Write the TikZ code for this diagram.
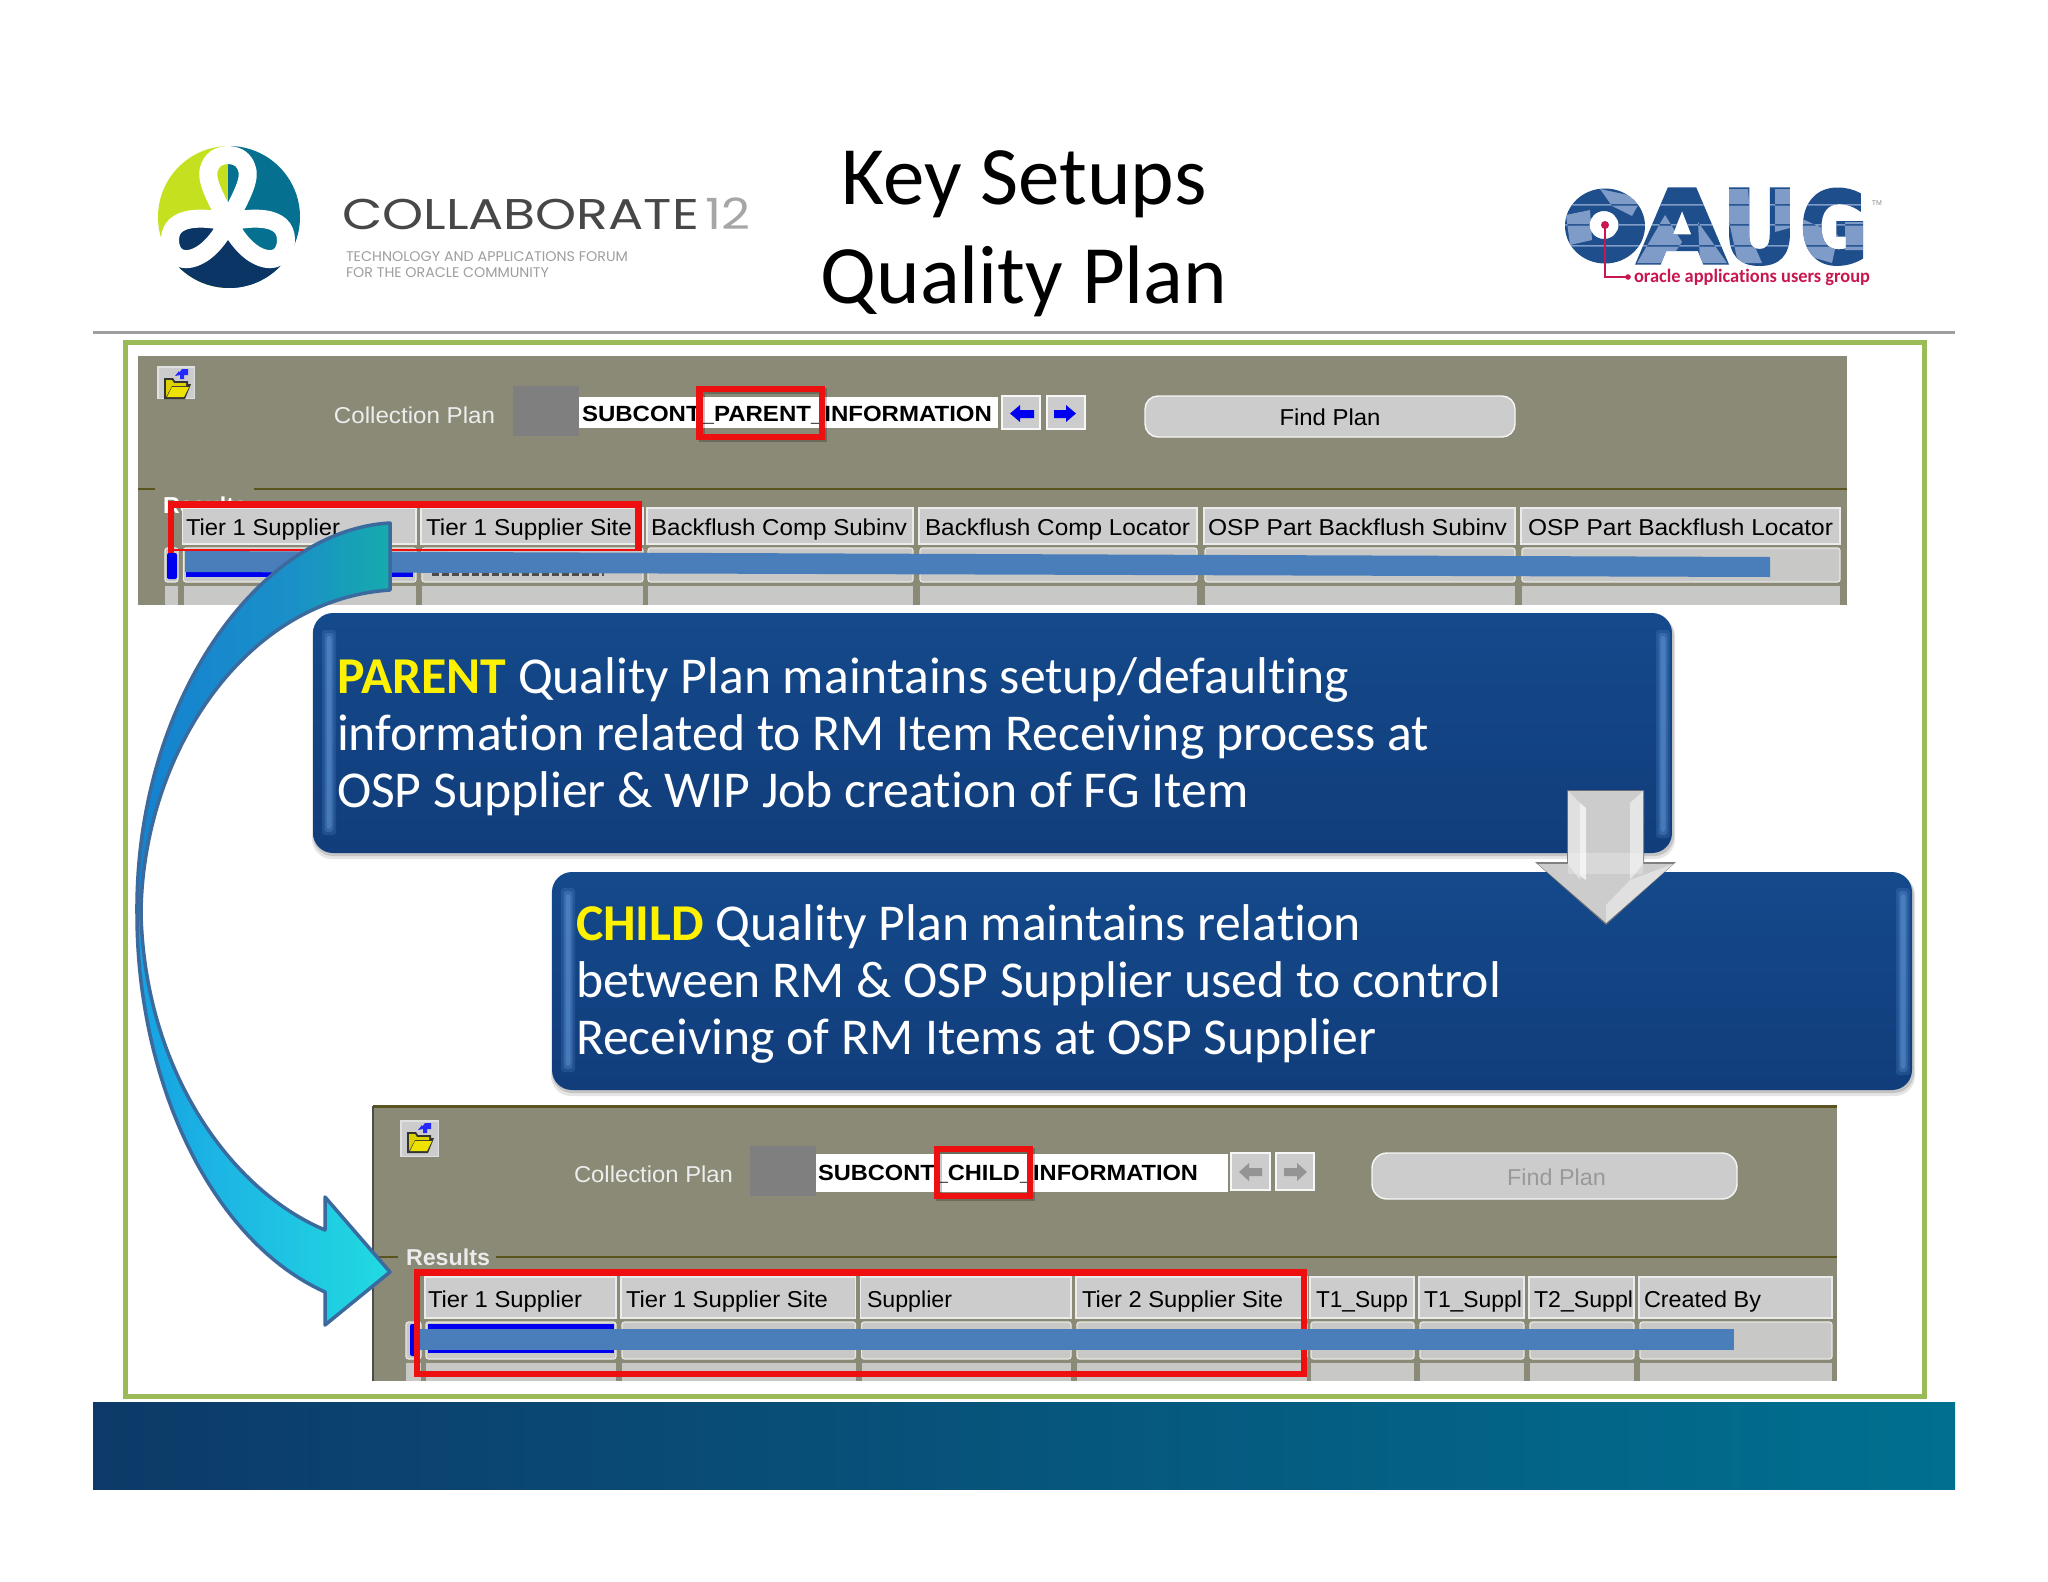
\documentclass[tikz,border=0pt]{standalone}
\usepackage{graphicx}
\usepackage{fontspec}
\setmainfont{Carlito}[Ligatures=NoCommon]
\newfontfamily\uifont{Liberation Sans}
\newfontfamily\logofont{Poppins}
\newfontfamily\oaugfont{DejaVu Sans Bold}[FakeBold=3]
\usetikzlibrary{calc,fadings}
\definecolor{panelbg}{HTML}{8A8A76}
\definecolor{panelline}{HTML}{5A5420}
\definecolor{grayslot}{HTML}{807F80}
\definecolor{cellface}{HTML}{CCCCCC}
\definecolor{cellrow}{HTML}{C8C8C6}
\definecolor{bandblue}{HTML}{4A7EBB}
\definecolor{redbox}{HTML}{EE0F10}
\definecolor{framegreen}{HTML}{9BBB59}
\definecolor{selblue}{HTML}{0000F0}
\definecolor{boxtop}{HTML}{144A8C}
\definecolor{boxmid}{HTML}{113C7A}
\definecolor{boxbot}{HTML}{0B305F}
\definecolor{boxhi}{HTML}{6DA3E4}
\definecolor{lime}{HTML}{C5E01F}
\definecolor{tealc}{HTML}{05708F}
\definecolor{navyc}{HTML}{0B3565}
\definecolor{oaugdark}{HTML}{1F4E8C}
\definecolor{oauglight}{HTML}{7F9CC8}
\definecolor{oaugred}{HTML}{C8174F}
\definecolor{footl}{HTML}{0D3A68}
\definecolor{footr}{HTML}{007090}
\definecolor{tailA}{HTML}{0F78D8}
\definecolor{tailB}{HTML}{1A8FC8}
\definecolor{tailC}{HTML}{14B8A0}
\definecolor{headA}{HTML}{0A80E0}
\definecolor{headB}{HTML}{1CB4E4}
\definecolor{headC}{HTML}{22E0E0}
\definecolor{headD}{HTML}{10E0B0}
\definecolor{arrowedge}{HTML}{3A6A9E}
\pgfdeclareverticalshading{calloutshade}{100bp}{color(0bp)=(boxbot); color(7bp)=(boxbot); color(22bp)=(boxmid); color(78bp)=(boxtop); color(95bp)=(boxtop); color(100bp)=(boxmid)}
\pgfdeclarehorizontalshading{tailshade}{100bp}{color(0bp)=(tailA); color(55bp)=(tailB); color(85bp)=(tailC); color(100bp)=(tailC)}
\pgfdeclarehorizontalshading{headshade}{100bp}{color(0bp)=(headA); color(40bp)=(headB); color(80bp)=(headC); color(100bp)=(headD)}
\newcommand\fitw[2]{\resizebox{#1pt}{\height}{#2}}
\newcommand\fitwh[3]{\resizebox{#1pt}{#2pt}{#3}}
\newcommand\glowstrip[4]{% x1, x2, y1, y2
  \fill[boxhi,opacity=.18,rounded corners=3] (#1,#3) rectangle (#2,#4);
  \fill[boxhi,opacity=.25,rounded corners=3] (#1+2.5,#3+3) rectangle (#2-2.5,#4-3);
  \fill[boxhi,opacity=.35,rounded corners=3] (#1+4.5,#3+6) rectangle (#2-4.5,#4-6);
}
\tikzset{
  uitext/.style={inner sep=0,outer sep=0,font=\uifont\fontsize{23}{23}\selectfont,text=black},
  hdrcell/.style={fill=cellface,draw=white!92!black,line width=1.6},
  rowcell/.style={fill=cellrow,draw=white!80!panelbg,line width=1.2,rounded corners=2.5},
  redframe/.style={draw=redbox,line width=6.2},
  redshadow/.style={draw=black,opacity=.22,line width=6},
  panelrule/.style={draw=panelline,line width=2.2},
  btnface/.style={fill=cellface,draw=white!85!cellface,line width=1.4},
  calloutbody/.style={rounded corners=20,shading=calloutshade},
  callouttext/.style={inner sep=0,outer sep=0,text=white,align=left,font=\fontsize{51.7}{57}\selectfont},
  titletext/.style={inner sep=0,outer sep=0,font=\fontsize{83}{83}\selectfont,text=black},
  lobewhite/.style={white,line width=18,line join=round},
}
\newcommand\foldericon[4]{%
  \begin{scope}[shift={(#1,#2)}]
    \fill[white!88!black] (0,0) rectangle (#3,#4);
    \fill[cellface] (1.5,1.5) rectangle (#3-1.5,#4-1.5);
    \fill[black!80] (7,12) -- (16,12) -- (18,15) -- (31,15) -- (31,18) -- (34,18) -- (28,33) -- (7,33) -- cycle;
    \fill[yellow!70!olive] (9,14) -- (15,14) -- (17,17) -- (29,17) -- (29,20) -- (15,20) -- (9,31) -- cycle;
    \fill[yellow!85!olive] (15,21) -- (32,21) -- (27,31) -- (10,31) -- cycle;
    \fill[blue!85!white] (18,10) -- (22,5) -- (22,7) -- (25,3) -- (31,3) -- (31,9) -- (27,9) -- (27,13) -- (23,13) -- (23,9) -- cycle;
  \end{scope}}
\begin{document}
\begin{tikzpicture}[x=1pt,y=-1pt]
\useasboundingbox (0,0) rectangle (2048,1582);
\fill[white] (0,0) rectangle (2048,1582);

% ---------- COLLABORATE logo
\begin{scope}
  \clip (229,217) circle[x radius=71,y radius=71];
  \fill[lime] (150,140) rectangle (228,300);
  \fill[tealc] (228,140) rectangle (310,300);
  \fill[navyc] (150,250) rectangle (310,300);
  \fill[navyc] (228,228) -- (195,265) -- (261,265) -- cycle;
\end{scope}
\fill[navyc] (228,222) .. controls (205,217) and (170,214) .. (170,240) .. controls (170,268) and (205,268) .. (228,222) -- cycle;
\fill[tealc] (228,222) .. controls (251,217) and (286,214) .. (286,240) .. controls (286,268) and (251,268) .. (228,222) -- cycle;
\draw[lobewhite] (228,222) .. controls (214,195) and (204,178) .. (210,166) .. controls (214,157) and (222,155) .. (228,155) .. controls (234,155) and (242,157) .. (246,166) .. controls (252,178) and (242,195) .. (228,222);
\draw[lobewhite] (228,222) .. controls (205,217) and (170,214) .. (170,240) .. controls (170,268) and (205,268) .. (228,222);
\draw[lobewhite] (228,222) .. controls (251,217) and (286,214) .. (286,240) .. controls (286,268) and (251,268) .. (228,222);
\node[inner sep=0,outer sep=0,anchor=base west,text=black!72] (collab) at (342,229) {\logofont\fontsize{43}{43}\selectfont\fitw{357}{COLLABORATE}};
\node[inner sep=0,outer sep=0,anchor=base west,text=black!35] (collabyear) at (705,229) {\logofont\fontsize{43}{43}\selectfont\fitw{45}{12}};
\node[inner sep=0,outer sep=0,anchor=base west,text=black!38] (collabsub1) at (346,261) {\logofont\fontsize{14}{14}\selectfont\fitw{282}{TECHNOLOGY AND APPLICATIONS FORUM}};
\node[inner sep=0,outer sep=0,anchor=base west,text=black!38] (collabsub2) at (346,277) {\logofont\fontsize{14}{14}\selectfont\fitw{203}{FOR THE ORACLE COMMUNITY}};

% ---------- title
\node[titletext,anchor=base] (title1) at (1024,204) {Key Setups};
\node[titletext,anchor=base] (title2) at (1024,303) {Quality Plan};

% ---------- OAUG logo
\fill[oaugdark,even odd rule] (1605,226) circle[x radius=40,y radius=37.5] (1604,225) circle[x radius=14.5,y radius=14];
\node[inner sep=0,outer sep=0,text=oaugdark,anchor=north west] (oaugA) at (1637,189) {\oaugfont\fitwh{90}{74}{A}};
\node[inner sep=0,outer sep=0,text=oaugdark,anchor=north west] (oaugU) at (1722,189) {\oaugfont\fitwh{75}{74}{U}};
\node[inner sep=0,outer sep=0,text=oaugdark,anchor=north west] (oaugG) at (1800,189) {\oaugfont\fitwh{68}{74}{G}};
\begin{scope}[blend mode=lighten]
  \fill[oauglight] (1600,189) -- (1642,198) -- (1632,216) -- (1612,206) -- cycle
        (1566,215) -- (1590,210) -- (1592,240) -- (1570,245) -- cycle
        (1637,263) -- (1665,215) -- (1682,242) -- (1668,263) -- cycle
        (1698,222) -- (1727,263) -- (1700,263) -- cycle
        (1722,189) -- (1748,189) -- (1752,240) -- (1762,263) -- (1738,263) -- cycle
        (1775,189) -- (1797,189) -- (1797,226) -- (1775,232) -- cycle
        (1800,218) -- (1838,235) -- (1832,263) -- (1805,255) -- cycle
        (1845,222) -- (1868,222) -- (1868,250) -- (1845,250) -- cycle
        (1560,204) rectangle (1880,205.5)
        (1560,224) rectangle (1880,225.5)
        (1560,245) rectangle (1880,246.5);
\end{scope}
\draw[oaugred,line width=2.2] (1605,225) -- (1605,277) -- (1628,277);
\fill[oaugred] (1605,225) circle[radius=4];
\fill[oaugred] (1628,277) circle[radius=2.8];
\node[inner sep=0,outer sep=0,anchor=base west,text=oaugred] (oaugtag) at (1634,282) {\fontsize{19}{19}\selectfont\bfseries\fitw{236}{oracle applications users group}};
\node[inner sep=0,outer sep=0,text=black!45] (oaugtm) at (1877,203) {\uifont\fontsize{7}{7}\selectfont TM};

% ---------- header rule, footer, frame
\draw[black!38,line width=3] (93,332) -- (1955,332);
\shade[left color=footl,right color=footr] (93,1402) rectangle (1955,1489);
\draw[framegreen,line width=5] (125,342) rectangle (1924,1396);

% ---------- panel 1
\fill[panelbg] (138,356) rectangle (1847,605);
\draw[panelrule] (138,489) -- (155,489);
\draw[panelrule] (254,489) -- (1847,489);
\foldericon{157}{366}{38}{33}
\node[uitext,text=white!93!black,anchor=center] (cp1) at (414.5,415) {\fitw{161}{Collection Plan}};
\fill[grayslot] (513,386) rectangle (579,436);
\fill[white] (579,397) rectangle (998,428);
\node[uitext,anchor=base west] (field1) at (582,421) {\bfseries\fontsize{22}{22}\selectfont\fitw{410}{SUBCONT\_PARENT\_INFORMATION}};
\draw[btnface] (1002,396) rectangle (1040,429);
\draw[btnface] (1047,396) rectangle (1085,429);
\fill[selblue] (1010,413.5) -- (1020,405) -- (1020,410) -- (1034,410) -- (1034,418) -- (1020,418) -- (1020,422) -- cycle;
\fill[selblue] (1076,413.5) -- (1066,405) -- (1066,410) -- (1054,410) -- (1054,418) -- (1066,418) -- (1066,422) -- cycle;
\draw[btnface,rounded corners=13] (1145,396) rectangle (1515,437);
\node[uitext,anchor=center] (find1) at (1330,417) {\fitw{101}{Find Plan}};
\node[uitext,text=white,anchor=base west] (res1) at (163,513) {\bfseries\fitw{84}{Results}};
\draw[rowcell] (165,548) rectangle (178,582);
\fill[cellrow] (165,586) rectangle (178,605);
\foreach \a/\b in {182.5/416,421/643,647/913,919/1197,1204/1515,1521/1840}{
  \draw[hdrcell] (\a,508) rectangle (\b,544);
  \draw[rowcell] (\a+1,548) rectangle (\b,582);
  \fill[cellrow] (\a+1,586) rectangle (\b,605);
}
\fill[selblue,rounded corners=2] (167,553) rectangle (177,579);
\fill[selblue] (186,567) rectangle (413,577);
\draw[black!70,line width=3,dash pattern=on 7pt off 3pt] (432,574) -- (604,574);
\node[uitext,anchor=base west] (p1c1) at (186,535) {\fitw{154}{Tier 1 Supplier}};
\node[uitext,anchor=base west] (p1c2) at (426,535) {\fitw{206}{Tier 1 Supplier Site}};
\node[uitext,anchor=base west] (p1c3) at (651,535) {\fitw{256}{Backflush Comp Subinv}};
\node[uitext,anchor=base west] (p1c4) at (925,535) {\fitw{265}{Backflush Comp Locator}};
\node[uitext,anchor=base west] (p1c5) at (1208,535) {\fitw{299}{OSP Part Backflush Subinv}};
\node[uitext,anchor=base west] (p1c6) at (1528,535) {\fitw{305}{OSP Part Backflush Locator}};
% red frames panel 1
\draw[redshadow] (701.5,391) rectangle (824,439);
\draw[redframe] (699.5,389) rectangle (822,437);
\draw[redframe] (171,553) -- (171,504.5) -- (638.5,504.5) -- (638.5,551);
\draw[redframe,line width=2.5] (171,550) -- (638.5,550);
\fill[bandblue] (185,551) -- (1770,557) -- (1770,577) -- (185,572) -- cycle;

% ---------- panel 2
\fill[panelbg] (373,1106) rectangle (1837,1381);
\draw[panelline,line width=3] (373,1106) -- (1837,1106);
\draw[black!70,line width=1.5] (373,1106) -- (373,1381);
\draw[panelrule] (373,1257) -- (398,1257);
\draw[panelrule] (496,1257) -- (1837,1257);
\foldericon{400}{1120}{39}{37}
\node[uitext,text=white!93!black,anchor=center] (cp2) at (653.5,1174) {\fitw{159}{Collection Plan}};
\fill[grayslot] (750,1146) rectangle (816,1196);
\fill[white] (816,1154) rectangle (1228,1192);
\node[uitext,anchor=base west] (field2) at (818,1180) {\bfseries\fontsize{22}{22}\selectfont\fitw{380}{SUBCONT\_CHILD\_INFORMATION}};
\draw[btnface] (1231,1153) rectangle (1270,1190);
\draw[btnface] (1276,1153) rectangle (1314,1190);
\fill[black!42] (1239,1172) -- (1249,1163) -- (1249,1168) -- (1262,1168) -- (1262,1176) -- (1249,1176) -- (1249,1181) -- cycle;
\fill[black!42] (1307,1172) -- (1297,1163) -- (1297,1168) -- (1284,1168) -- (1284,1176) -- (1297,1176) -- (1297,1181) -- cycle;
\draw[btnface,rounded corners=15] (1372,1153) rectangle (1737,1199);
\node[uitext,text=black!40,anchor=center] (find2) at (1556.5,1177) {\fitw{99}{Find Plan}};
\node[uitext,text=white!92!black,anchor=center] (res2) at (448,1257) {\bfseries\fitw{84}{Results}};
\draw[rowcell] (406,1322) rectangle (421,1359);
\fill[cellrow] (406,1363) rectangle (421,1381);
\foreach \a/\b in {425/616,621/855.5,860.6/1071,1076/1307,1310/1414,1419/1524,1529/1634,1639/1832}{
  \draw[hdrcell] (\a,1277) rectangle (\b,1318);
  \draw[rowcell] (\a+1,1322) rectangle (\b,1359);
  \fill[cellrow] (\a+1,1363) rectangle (\b,1381);
}
\fill[selblue,rounded corners=2] (410,1324) rectangle (419,1356);
\fill[selblue] (428,1324) rectangle (614,1353);
\node[uitext,anchor=base west] (p2c1) at (428,1307) {\fitw{154}{Tier 1 Supplier}};
\node[uitext,anchor=base west] (p2c2) at (626,1307) {\fitw{202}{Tier 1 Supplier Site}};
\node[uitext,anchor=base west] (p2c3) at (867,1307) {\fitw{85}{Supplier}};
\node[uitext,anchor=base west] (p2c4) at (1082,1307) {\fitw{201}{Tier 2 Supplier Site}};
\node[uitext,anchor=base west] (p2c5) at (1316,1307) {\fitw{92}{T1\_Supp}};
\node[uitext,anchor=base west] (p2c6) at (1424,1307) {\fitw{98}{T1\_Suppl}};
\node[uitext,anchor=base west] (p2c7) at (1534,1307) {\fitw{99}{T2\_Suppl}};
\node[uitext,anchor=base west] (p2c8) at (1644,1307) {\fitw{117}{Created By}};
\draw[redshadow] (939,1151) rectangle (1032,1198);
\draw[redframe] (937,1149) rectangle (1030,1196);
\draw[redframe] (417,1272.5) rectangle (1304,1374);
\fill[bandblue] (420,1329) rectangle (1734,1350);

% ---------- curved arrow
\begin{scope}
  \clip (390,523) .. controls (260,530) and (135,700) .. (137,914) -- (141,914) .. controls (142,760) and (240,600) .. (390,590) -- cycle;
  \shade[shading=tailshade] (137,500) rectangle (390,920);
\end{scope}
\begin{scope}
  \clip (137,914) .. controls (137,1080) and (210,1240) .. (325,1292) -- (325,1325) -- (390,1272) -- (325,1197) -- (325,1230) .. controls (230,1190) and (145,1070) .. (141,914) -- cycle;
  \shade[shading=headshade] (137,910) rectangle (390,1330);
\end{scope}
\draw[draw=arrowedge,line width=3.5,line join=round]
  (390,523) .. controls (260,530) and (135,700) .. (137,914)
  .. controls (137,1080) and (210,1240) .. (325,1292) -- (325,1325) -- (390,1272) -- (325,1197) -- (325,1230)
  .. controls (230,1190) and (145,1070) .. (141,914)
  .. controls (142,760) and (240,600) .. (390,590) -- cycle;

% ---------- callouts
\fill[black,opacity=.10,rounded corners=20] (312,616) rectangle (1675,859);
\fill[black,opacity=.14,rounded corners=20] (313,616) rectangle (1674,856);
\path[calloutbody] (313,613) rectangle (1672,853);
\glowstrip{322}{336}{630}{835}
\glowstrip{1656}{1670}{630}{838}
\node[callouttext,anchor=north west] (parenttext) at (337,657.5) {\textcolor{yellow}{\bfseries PARENT} Quality Plan maintains setup/defaulting\\information related to RM Item Receiving process at\\OSP Supplier \& WIP Job creation of FG Item};

\fill[black,opacity=.10,rounded corners=20] (551,875) rectangle (1915,1096);
\fill[black,opacity=.14,rounded corners=20] (552,875) rectangle (1914,1093);
\path[calloutbody] (552,872) rectangle (1912,1090);
\glowstrip{561}{575}{888}{1072}
\glowstrip{1896}{1910}{888}{1075}
\node[callouttext,anchor=north west] (childtext) at (576,905) {\textcolor{yellow}{\bfseries CHILD} Quality Plan maintains relation\\between RM \& OSP Supplier used to control\\Receiving of RM Items at OSP Supplier};

% ---------- down arrow
\fill[black!55,opacity=.9] (1567,790) -- (1644,790) -- (1644,862) -- (1676,862) -- (1606,925) -- (1535,862) -- (1567,862) -- cycle;
\fill[black!20] (1568,791) -- (1643,791) -- (1643,864) -- (1673,864) -- (1606,923) -- (1538,864) -- (1568,864) -- cycle;
\fill[black!12] (1580,803) -- (1568,791) -- (1568,864) -- (1580,880) -- cycle;
\fill[white,opacity=.7] (1580,803) -- (1586,808) -- (1586,880) -- (1580,876) -- cycle;
\fill[black!10] (1630,803) -- (1643,791) -- (1643,864) -- (1630,880) -- cycle;
\fill[black!12] (1606,905) -- (1630,880) -- (1673,864) -- (1606,923) -- cycle;
\fill[white,opacity=.25] (1568,853) rectangle (1643,874);
\end{tikzpicture}
\end{document}
